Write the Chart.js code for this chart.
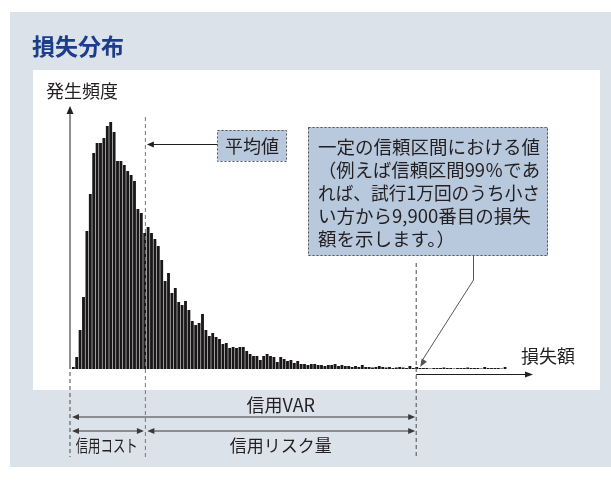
<!DOCTYPE html>
<html lang="ja">
<head>
<meta charset="utf-8">
<script src="https://cdn.jsdelivr.net/npm/chart.js@4.4.1/dist/chart.umd.min.js"></script>
<style>
  html, body { margin: 0; padding: 0; background: #fff; }
  canvas { display: block; }
</style>
</head>
<body>
<canvas id="lossChart" width="611" height="481"></canvas>
<script>
const FONT = '"Noto Sans CJK JP", "Noto Sans", sans-serif';

// texts
const title = '損失分布';
const yTitle = '発生頻度';
const xTitle = '損失額';
const meanLabel = '平均値';
const noteLines = [
  '一定の信頼区間における値',
  '（例えば信頼区間99％であ',
  'れば、試行1万回のうち小さ',
  'い方から9,900番目の損失',
  '額を示します。）'
];
const varLabel = '信用VAR';
const costLabel = '信用コスト';
const riskLabel = '信用リスク量';

// histogram (frequency per loss bin)
const frequency = [
  2, 12, 39, 72, 138, 175, 216, 226, 226, 231,
  243, 247, 237, 208, 208, 204, 198, 194, 188, 160,
  156, 136, 142, 136, 130, 123, 109, 88, 96, 76,
  81, 67, 64, 68, 59, 48, 44, 46, 55, 39,
  33, 36, 32, 30, 25, 26, 21, 22, 21, 22,
  22, 18, 15, 13, 13, 9, 13, 15, 13, 12,
  7, 12, 10, 8, 9, 6, 8, 5, 5, 4,
  5, 5, 4, 4, 3, 4, 4, 5, 3, 4,
  3, 3, 2, 3, 2, 4, 2, 2, 1.5, 2,
  3, 2, 1.5, 2, 1, 1.5, 2, 1.5, 1, 3,
  1, 2, 1, 1, 1, 0.5, 1, 1, 1, 1.5,
  1, 1, 0.5, 1, 1, 1, 1.5, 1, 1, 1,
  0.5, 2, 1, 1, 1, 1, 0.5, 2
];
const bins = frequency.map((_, i) => String(i + 1));
const meanBin = 21.2;    // position of the mean on the bin axis
const varBin = 100.85;   // 99% point (9,900th of 10,000)
const yMax = 263;

function head(ctx, x, y, angle, len, half) {
  ctx.save();
  ctx.translate(x, y);
  ctx.rotate(angle);
  ctx.beginPath();
  ctx.moveTo(0, 0);
  ctx.lineTo(-len, -half);
  ctx.lineTo(-len, half);
  ctx.closePath();
  ctx.fill();
  ctx.restore();
}

function line(ctx, x1, y1, x2, y2) {
  ctx.beginPath();
  ctx.moveTo(x1, y1);
  ctx.lineTo(x2, y2);
  ctx.stroke();
}

const panel = {
  id: 'panel',
  beforeDraw(chart) {
    const ctx = chart.ctx;
    ctx.save();
    ctx.fillStyle = '#ffffff';
    ctx.fillRect(0, 0, chart.width, chart.height);
    ctx.fillStyle = '#dce2e9';
    ctx.fillRect(10, 12, chart.width - 10, 455);
    ctx.fillStyle = '#ffffff';
    ctx.fillRect(33, 70, 567, 320);
    ctx.restore();
  }
};

const notes = {
  id: 'notes',
  afterDraw(chart) {
    const ctx = chart.ctx;
    const xs = chart.scales.x, ys = chart.scales.y;
    const area = chart.chartArea;
    const base = ys.getPixelForValue(0);
    const xAxis = area.left - 1.6;
    const xMean = xs.getPixelForValue(meanBin);
    const xVar = xs.getPixelForValue(varBin);
    const ink = '#231f20';

    ctx.save();
    // title
    ctx.fillStyle = '#1c3d88';
    ctx.font = 'bold 23px ' + FONT;
    ctx.textBaseline = 'middle';
    ctx.fillText(title, 32, 46);

    ctx.fillStyle = ink;
    ctx.font = '18px ' + FONT;
    ctx.fillText(yTitle, 46, 91);
    ctx.fillText(xTitle, 521, 356);

    // y axis
    ctx.strokeStyle = ink;
    ctx.fillStyle = ink;
    ctx.lineWidth = 1;
    line(ctx, xAxis, base, xAxis, area.top + 6);
    head(ctx, xAxis, area.top, -Math.PI / 2, 8, 3.5);

    // x axis arrow from VaR point
    line(ctx, xVar, 374.5, 528, 374.5);
    head(ctx, 533, 374.5, 0, 8, 3);

    // dashed verticals
    ctx.strokeStyle = '#4a4a4a';
    ctx.setLineDash([4, 3]);
    line(ctx, xAxis, base + 3, xAxis, 457);
    line(ctx, xVar, 263, xVar, 457);
    ctx.strokeStyle = '#777';
    line(ctx, xMean, 117, xMean, 457);
    ctx.setLineDash([]);

    // mean label box
    ctx.fillStyle = '#b8c9de';
    ctx.fillRect(217.5, 130, 69, 31);
    ctx.strokeStyle = '#555';
    ctx.setLineDash([2, 2]);
    ctx.strokeRect(217.5, 130.5, 69, 31);
    ctx.setLineDash([]);
    ctx.fillStyle = ink;
    ctx.font = '18px ' + FONT;
    ctx.textAlign = 'center';
    ctx.fillText(meanLabel, 252, 146);
    ctx.strokeStyle = ink;
    line(ctx, 217.5, 144.5, xMean + 6, 144.5);
    head(ctx, xMean + 1.5, 144.5, Math.PI, 7, 3);

    // note box
    ctx.fillStyle = '#b8c9de';
    ctx.fillRect(308, 127, 240, 129);
    ctx.strokeStyle = '#555';
    ctx.setLineDash([2, 2]);
    ctx.strokeRect(308.5, 127.5, 239, 128);
    ctx.setLineDash([]);
    ctx.fillStyle = ink;
    ctx.textAlign = 'left';
    ctx.font = '18.5px ' + FONT;
    noteLines.forEach((t, i) => ctx.fillText(t, 318, 147 + i * 23.1, 222));

    // connector to VaR point
    ctx.strokeStyle = '#555';
    ctx.fillStyle = '#555';
    ctx.beginPath();
    ctx.moveTo(473.5, 256);
    ctx.lineTo(473.5, 280);
    ctx.lineTo(xVar + 5, 362);
    ctx.stroke();
    const ang = Math.atan2(367 - 280, xVar + 4 - 473.5);
    head(ctx, xVar + 4, 367, ang, 8, 3);

    // brackets
    ctx.strokeStyle = '#3a3a3a';
    ctx.fillStyle = '#3a3a3a';
    const both = (a, b, y) => {
      line(ctx, a + 4, y, b - 4, y);
      head(ctx, a, y, Math.PI, 7, 3);
      head(ctx, b, y, 0, 7, 3);
    };
    both(xAxis + 2, xVar - 1, 417);
    both(xAxis + 2, xMean - 1.5, 431);
    both(xMean + 2, xVar - 1, 431);

    ctx.fillStyle = ink;
    ctx.textAlign = 'center';
    ctx.font = '18px ' + FONT;
    ctx.fillText(varLabel, (xMean + xVar) / 2, 405);
    ctx.font = '17px ' + FONT;
    ctx.fillText(riskLabel, (xMean + xVar) / 2, 446);
    ctx.fillText(costLabel, (xAxis + xMean) / 2 - 1, 446, 62);
    ctx.restore();
  }
};

const ctx = document.getElementById('lossChart').getContext('2d');
const lossChart = new Chart(ctx, {
  type: 'bar',
  data: {
    labels: bins,
    datasets: [{
      data: frequency,
      backgroundColor: '#1a1718',
      borderWidth: 0,
      barPercentage: 0.84,
      categoryPercentage: 1.0
    }]
  },
  options: {
    responsive: false,
    animation: false,
    layout: {
      padding: { left: 71.6, right: 104.2, top: 106, bottom: 112 }
    },
    scales: {
      x: { display: false },
      y: { display: false, min: 0, max: yMax }
    },
    plugins: {
      legend: { display: false },
      tooltip: { enabled: false }
    }
  },
  plugins: [panel, notes]
});
</script>
</body>
</html>
